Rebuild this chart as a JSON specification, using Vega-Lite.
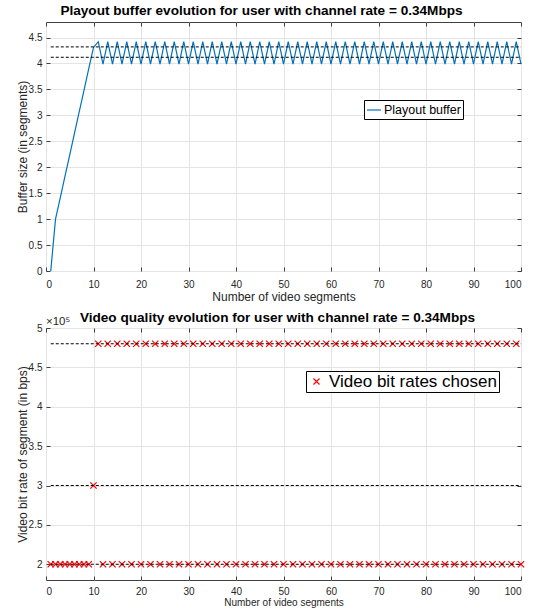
{
  "$schema": "https://vega.github.io/schema/vega-lite/v6.json",
  "padding": {"left": 15, "top": 3, "right": 10, "bottom": 2},
  "background": "white",
  "spacing": 7,
  "resolve": {"legend": {"color": "independent", "shape": "independent"}},
  "config": {
    "font": "Liberation Sans",
    "view": {"stroke": "#404040", "strokeWidth": 1},
    "axis": {
      "labelFontSize": 10,
      "labelColor": "#262626",
      "titleColor": "#262626",
      "titleFontWeight": "normal",
      "titleFontSize": 12,
      "gridColor": "#e4e4e4",
      "domain": false,
      "tickColor": "#404040",
      "tickSize": -4,
      "labelPadding": 8
    },
    "title": {"fontSize": 13.6, "fontWeight": "bold", "color": "#000000", "offset": 4},
    "legend": {"strokeColor": "#000000", "fillColor": "#ffffff", "padding": 3, "orient": "none", "labelColor": "#000000", "labelLimit": 400}
  },
  "datasets": {
    "buf": [
      {"x":1,"b":0},{"x":2,"b":1},{"x":3,"b":1.41},{"x":4,"b":1.83},{"x":5,"b":2.24},{"x":6,"b":2.66},{"x":7,"b":3.07},{"x":8,"b":3.48},{"x":9,"b":3.9},{"x":10,"b":4.31},
      {"x":11,"b":4.42},{"x":12,"b":3.99},{"x":13,"b":4.42},{"x":14,"b":3.99},{"x":15,"b":4.42},{"x":16,"b":3.99},{"x":17,"b":4.42},{"x":18,"b":3.99},{"x":19,"b":4.42},{"x":20,"b":3.99},
      {"x":21,"b":4.42},{"x":22,"b":3.99},{"x":23,"b":4.42},{"x":24,"b":3.99},{"x":25,"b":4.42},{"x":26,"b":3.99},{"x":27,"b":4.42},{"x":28,"b":3.99},{"x":29,"b":4.42},{"x":30,"b":3.99},
      {"x":31,"b":4.42},{"x":32,"b":3.99},{"x":33,"b":4.42},{"x":34,"b":3.99},{"x":35,"b":4.42},{"x":36,"b":3.99},{"x":37,"b":4.42},{"x":38,"b":3.99},{"x":39,"b":4.42},{"x":40,"b":3.99},
      {"x":41,"b":4.42},{"x":42,"b":3.99},{"x":43,"b":4.42},{"x":44,"b":3.99},{"x":45,"b":4.42},{"x":46,"b":3.99},{"x":47,"b":4.42},{"x":48,"b":3.99},{"x":49,"b":4.42},{"x":50,"b":3.99},
      {"x":51,"b":4.42},{"x":52,"b":3.99},{"x":53,"b":4.42},{"x":54,"b":3.99},{"x":55,"b":4.42},{"x":56,"b":3.99},{"x":57,"b":4.42},{"x":58,"b":3.99},{"x":59,"b":4.42},{"x":60,"b":3.99},
      {"x":61,"b":4.42},{"x":62,"b":3.99},{"x":63,"b":4.42},{"x":64,"b":3.99},{"x":65,"b":4.42},{"x":66,"b":3.99},{"x":67,"b":4.42},{"x":68,"b":3.99},{"x":69,"b":4.42},{"x":70,"b":3.99},
      {"x":71,"b":4.42},{"x":72,"b":3.99},{"x":73,"b":4.42},{"x":74,"b":3.99},{"x":75,"b":4.42},{"x":76,"b":3.99},{"x":77,"b":4.42},{"x":78,"b":3.99},{"x":79,"b":4.42},{"x":80,"b":3.99},
      {"x":81,"b":4.42},{"x":82,"b":3.99},{"x":83,"b":4.42},{"x":84,"b":3.99},{"x":85,"b":4.42},{"x":86,"b":3.99},{"x":87,"b":4.42},{"x":88,"b":3.99},{"x":89,"b":4.42},{"x":90,"b":3.99},
      {"x":91,"b":4.42},{"x":92,"b":3.99},{"x":93,"b":4.42},{"x":94,"b":3.99},{"x":95,"b":4.42},{"x":96,"b":3.99},{"x":97,"b":4.42},{"x":98,"b":3.99},{"x":99,"b":4.42},{"x":100,"b":3.99}
    ],
    "br": [
      {"x":1,"r":200000},{"x":2,"r":200000},{"x":3,"r":200000},{"x":4,"r":200000},{"x":5,"r":200000},{"x":6,"r":200000},{"x":7,"r":200000},{"x":8,"r":200000},{"x":9,"r":200000},{"x":10,"r":300000},
      {"x":11,"r":480000},{"x":12,"r":200000},{"x":13,"r":480000},{"x":14,"r":200000},{"x":15,"r":480000},{"x":16,"r":200000},{"x":17,"r":480000},{"x":18,"r":200000},{"x":19,"r":480000},{"x":20,"r":200000},
      {"x":21,"r":480000},{"x":22,"r":200000},{"x":23,"r":480000},{"x":24,"r":200000},{"x":25,"r":480000},{"x":26,"r":200000},{"x":27,"r":480000},{"x":28,"r":200000},{"x":29,"r":480000},{"x":30,"r":200000},
      {"x":31,"r":480000},{"x":32,"r":200000},{"x":33,"r":480000},{"x":34,"r":200000},{"x":35,"r":480000},{"x":36,"r":200000},{"x":37,"r":480000},{"x":38,"r":200000},{"x":39,"r":480000},{"x":40,"r":200000},
      {"x":41,"r":480000},{"x":42,"r":200000},{"x":43,"r":480000},{"x":44,"r":200000},{"x":45,"r":480000},{"x":46,"r":200000},{"x":47,"r":480000},{"x":48,"r":200000},{"x":49,"r":480000},{"x":50,"r":200000},
      {"x":51,"r":480000},{"x":52,"r":200000},{"x":53,"r":480000},{"x":54,"r":200000},{"x":55,"r":480000},{"x":56,"r":200000},{"x":57,"r":480000},{"x":58,"r":200000},{"x":59,"r":480000},{"x":60,"r":200000},
      {"x":61,"r":480000},{"x":62,"r":200000},{"x":63,"r":480000},{"x":64,"r":200000},{"x":65,"r":480000},{"x":66,"r":200000},{"x":67,"r":480000},{"x":68,"r":200000},{"x":69,"r":480000},{"x":70,"r":200000},
      {"x":71,"r":480000},{"x":72,"r":200000},{"x":73,"r":480000},{"x":74,"r":200000},{"x":75,"r":480000},{"x":76,"r":200000},{"x":77,"r":480000},{"x":78,"r":200000},{"x":79,"r":480000},{"x":80,"r":200000},
      {"x":81,"r":480000},{"x":82,"r":200000},{"x":83,"r":480000},{"x":84,"r":200000},{"x":85,"r":480000},{"x":86,"r":200000},{"x":87,"r":480000},{"x":88,"r":200000},{"x":89,"r":480000},{"x":90,"r":200000},
      {"x":91,"r":480000},{"x":92,"r":200000},{"x":93,"r":480000},{"x":94,"r":200000},{"x":95,"r":480000},{"x":96,"r":200000},{"x":97,"r":480000},{"x":98,"r":200000},{"x":99,"r":480000},{"x":100,"r":200000}
    ],
    "ref1": [{"x1":1,"x2":100,"y":4.32},{"x1":1,"x2":100,"y":4.12}],
    "ref2": [{"x1":1,"x2":100,"y":200000},{"x1":1,"x2":100,"y":300000},{"x1":1,"x2":100,"y":480000}],
    "mult": [{"x":0,"y":500000,"t":"×10⁵"}]
  },
  "vconcat": [
    {
      "width": 475,
      "height": 249,
      "title": {"text": "Playout buffer evolution for user with channel rate = 0.34Mbps", "dx": -22},
      "layer": [
        {
          "data": {"name": "buf"},
          "mark": {"type": "line", "color": "#0072BD", "strokeWidth": 1.2},
          "encoding": {
            "x": {"field": "x", "type": "quantitative", "scale": {"domain": [0, 100], "nice": false},
                  "axis": {"orient": "bottom", "values": [0,10,20,30,40,50,60,70,80,90,100], "title": "Number of video segments", "titlePadding": 2, "labelPadding": 12}},
            "y": {"field": "b", "type": "quantitative", "scale": {"domain": [0, 4.8], "nice": false, "zero": false},
                  "axis": {"orient": "left", "values": [0,0.5,1,1.5,2,2.5,3,3.5,4,4.5], "format": "~g", "title": "Buffer size (in segments)", "titlePadding": -1}},
            "color": {"datum": "Playout buffer", "scale": {"range": ["#0072BD"]},
                      "legend": {"title": null, "legendX": 318, "legendY": 78, "symbolType": "stroke", "symbolStrokeWidth": 1.2, "symbolSize": 200, "labelFontSize": 12.5, "labelOffset": 2, "padding": 2}}
          }
        },
        {
          "data": {"name": "ref1"},
          "mark": {"type": "rule", "color": "#000000", "strokeDash": [3, 2], "strokeWidth": 1},
          "encoding": {
            "x": {"field": "x1", "type": "quantitative", "axis": {"orient": "top", "values": [0,10,20,30,40,50,60,70,80,90,100], "labels": false, "title": null, "grid": false, "minExtent": 0, "maxExtent": 0}},
            "x2": {"field": "x2"},
            "y": {"field": "y", "type": "quantitative", "axis": {"orient": "right", "values": [0,0.5,1,1.5,2,2.5,3,3.5,4,4.5], "labels": false, "title": null, "grid": false, "minExtent": 0, "maxExtent": 0}}
          }
        }
      ],
      "resolve": {"axis": {"x": "independent", "y": "independent"}}
    },
    {
      "width": 475,
      "height": 252,
      "title": {"text": "Video quality evolution for user with channel rate = 0.34Mbps", "dx": -6, "offset": -9},
      "layer": [
        {
          "data": {"name": "br"},
          "mark": {"type": "point", "color": "#ff0000", "filled": false, "strokeWidth": 1.2, "size": 40, "opacity": 1},
          "encoding": {
            "x": {"field": "x", "type": "quantitative", "scale": {"domain": [0, 100], "nice": false},
                  "axis": {"orient": "bottom", "values": [0,10,20,30,40,50,60,70,80,90,100], "title": "Number of video segments", "titleFontSize": 10, "titlePadding": 1, "labelPadding": 10}},
            "y": {"field": "r", "type": "quantitative", "scale": {"domain": [180000, 500000], "nice": false, "zero": false},
                  "axis": {"orient": "left", "values": [200000,250000,300000,350000,400000,450000,500000], "labelExpr": "format(datum.value/100000, '~g')", "title": "Video bit rate of segment (in bps)", "titlePadding": -1}},
            "shape": {"datum": "Video bit rates chosen", "scale": {"range": ["M-1,-1L1,1M-1,1L1,-1"]},
                      "legend": {"title": null, "legendX": 260, "legendY": 43, "labelFontSize": 17, "symbolStrokeColor": "#ff0000", "symbolFillColor": "transparent", "symbolSize": 36, "symbolStrokeWidth": 1.2, "labelOffset": 4, "padding": 2}}
          }
        },
        {
          "data": {"name": "ref2"},
          "mark": {"type": "rule", "color": "#000000", "strokeDash": [3, 2], "strokeWidth": 1},
          "encoding": {
            "x": {"field": "x1", "type": "quantitative", "axis": {"orient": "top", "values": [0,10,20,30,40,50,60,70,80,90,100], "labels": false, "title": null, "grid": false, "minExtent": 0, "maxExtent": 0}},
            "x2": {"field": "x2"},
            "y": {"field": "y", "type": "quantitative", "axis": {"orient": "right", "values": [200000,250000,300000,350000,400000,450000,500000], "labels": false, "title": null, "grid": false, "minExtent": 0, "maxExtent": 0}}
          }
        },
        {
          "data": {"name": "mult"},
          "mark": {"type": "text", "align": "left", "baseline": "bottom", "dy": -1, "fontSize": 11.5, "color": "#262626"},
          "encoding": {
            "x": {"field": "x", "type": "quantitative", "axis": null},
            "y": {"field": "y", "type": "quantitative", "axis": null},
            "text": {"field": "t"}
          }
        }
      ],
      "resolve": {"axis": {"x": "independent", "y": "independent"}}
    }
  ]
}
